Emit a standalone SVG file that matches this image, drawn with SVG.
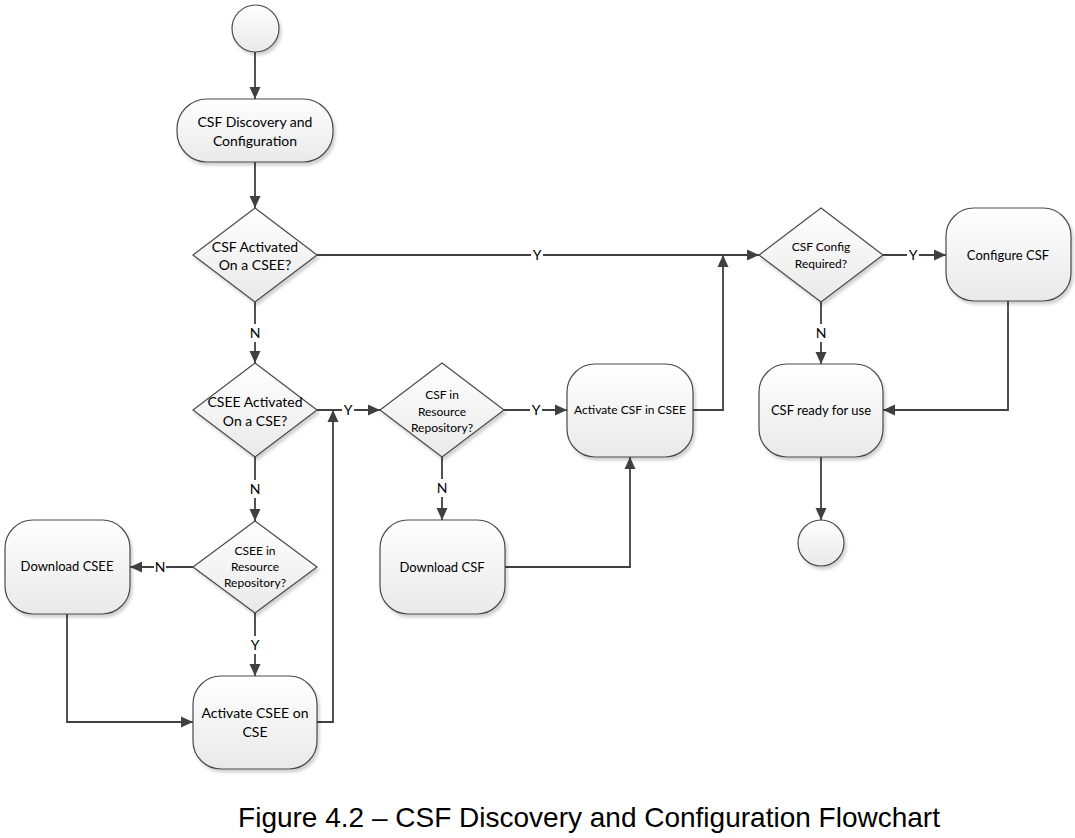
<svg xmlns="http://www.w3.org/2000/svg" width="1075" height="838" viewBox="0 0 1075 838">
<defs>
<linearGradient id="g" x1="0" y1="0" x2="0" y2="1">
<stop offset="0" stop-color="#ffffff"/>
<stop offset="1" stop-color="#e9e9e9"/>
</linearGradient>
<filter id="sh" x="-10%" y="-10%" width="130%" height="130%">
<feDropShadow dx="2" dy="3" stdDeviation="1.8" flood-color="#000" flood-opacity="0.18"/>
</filter>
<marker id="ar" markerUnits="userSpaceOnUse" markerWidth="12" markerHeight="12" viewBox="0 0 12 12" refX="12" refY="6" orient="auto">
<path d="M0,0.5 L12,6 L0,11.5 z" fill="#404040"/>
</marker>
</defs>
<style>
.s{fill:url(#g);stroke:#4a4a4a;stroke-width:1.2;filter:url(#sh)}
.t{font-family:Lato,"Liberation Sans",sans-serif;font-size:13px;fill:#000;text-anchor:middle}
.m{font-size:14px}
.sm{font-size:12px}
.c{fill:none;stroke:#404040;stroke-width:1.8}
.a{marker-end:url(#ar)}
.lb{font-family:Lato,"Liberation Sans",sans-serif;font-size:14px;fill:#000;text-anchor:middle}
.bg{fill:#fff}
.cap{font-family:"Liberation Sans",Arial,sans-serif;font-size:28px;fill:#000;text-anchor:middle}
</style>
<rect width="1075" height="838" fill="#fff"/>

<g id="connectors">
<path class="c a" d="M255,52 V99"/>
<path class="c a" d="M255,162 V208"/>
<path class="c a" d="M317,255 H759"/>
<path class="c a" d="M255,302 V363"/>
<path class="c a" d="M317,410 H380"/>
<path class="c a" d="M255,457 V521"/>
<path class="c a" d="M193,567 H130"/>
<path class="c a" d="M255,613 V676"/>
<path class="c a" d="M67,614 V722 H193"/>
<path class="c a" d="M317,722 H333 V410"/>
<path class="c a" d="M504,410 H567"/>
<path class="c a" d="M442,457 V520"/>
<path class="c a" d="M505,567 H630 V457"/>
<path class="c a" d="M693,410 H723 V255"/>
<path class="c a" d="M883,255 H946"/>
<path class="c a" d="M821,301 V364"/>
<path class="c a" d="M1008,301 V410 H883"/>
<path class="c a" d="M821,457 V520"/>
<g id="labels">
<rect class="bg" x="531" y="246" width="12" height="18"/><text class="lb" x="537" y="260">Y</text>
<rect class="bg" x="249" y="324" width="12" height="18"/><text class="lb" x="255" y="338">N</text>
<rect class="bg" x="342" y="401" width="12" height="18"/><text class="lb" x="348" y="415">Y</text>
<rect class="bg" x="249" y="480" width="12" height="18"/><text class="lb" x="255" y="494">N</text>
<rect class="bg" x="154" y="558" width="12" height="18"/><text class="lb" x="160" y="572">N</text>
<rect class="bg" x="249" y="636" width="12" height="18"/><text class="lb" x="255" y="650">Y</text>
<rect class="bg" x="530" y="401" width="12" height="18"/><text class="lb" x="536" y="415">Y</text>
<rect class="bg" x="436" y="479" width="12" height="18"/><text class="lb" x="442" y="493">N</text>
<rect class="bg" x="907" y="246" width="12" height="18"/><text class="lb" x="913" y="260">Y</text>
<rect class="bg" x="815" y="324" width="12" height="18"/><text class="lb" x="821" y="338">N</text>
</g>
</g>

<g id="start"><circle class="s" cx="255.5" cy="28.5" r="23.5"/></g>
<g id="discovery"><rect class="s" x="177" y="99" width="156" height="63" rx="30"/>
<text class="t m" x="255" y="126.5">CSF Discovery and</text><text class="t m" x="255" y="145.5">Configuration</text></g>
<g id="d-csf-activated"><polygon class="s" points="255,208 317,255 255,302 193,255"/>
<text class="t m" x="255" y="251.5">CSF Activated</text><text class="t m" x="255" y="269.5">On a CSEE?</text></g>
<g id="d-csee-activated"><polygon class="s" points="255,363 317,410 255,457 193,410"/>
<text class="t m" x="255" y="406.5">CSEE Activated</text><text class="t m" x="255" y="425.5">On a CSE?</text></g>
<g id="d-csf-repo"><polygon class="s" points="442,363 504,410 442,457 380,410"/>
<text class="t sm" x="442" y="399">CSF in</text><text class="t sm" x="442" y="415.5">Resource</text><text class="t sm" x="442" y="432">Repository?</text></g>
<g id="activate-csf"><rect class="s" x="567" y="364" width="126" height="93" rx="28"/>
<text class="t sm" x="630" y="414">Activate CSF in CSEE</text></g>
<g id="d-config"><polygon class="s" points="821,208 883,255 821,302 759,255"/>
<text class="t sm" x="821" y="251">CSF Config</text><text class="t sm" x="821" y="268">Required?</text></g>
<g id="configure"><rect class="s" x="946" y="208" width="125" height="93" rx="28"/>
<text class="t" x="1008" y="259.5">Configure CSF</text></g>
<g id="ready"><rect class="s" x="759" y="364" width="124" height="93" rx="28"/>
<text class="t" x="821" y="414.5">CSF ready for use</text></g>
<g id="end"><circle class="s" cx="821" cy="543" r="23"/></g>
<g id="d-csee-repo"><polygon class="s" points="255,521 317,567 255,613 193,567"/>
<text class="t sm" x="255" y="555">CSEE in</text><text class="t sm" x="255" y="571">Resource</text><text class="t sm" x="255" y="587">Repository?</text></g>
<g id="download-csee"><rect class="s" x="5" y="520" width="125" height="94" rx="28"/>
<text class="t" x="67" y="571">Download CSEE</text></g>
<g id="download-csf"><rect class="s" x="380" y="520" width="125" height="94" rx="28"/>
<text class="t" x="442" y="571.5">Download CSF</text></g>
<g id="activate-csee"><rect class="s" x="193" y="676" width="124" height="93" rx="28"/>
<text class="t m" x="255" y="717.5">Activate CSEE on</text><text class="t m" x="255" y="736.5">CSE</text></g>

<text class="cap" x="589" y="827">Figure 4.2 – CSF Discovery and Configuration Flowchart</text>
</svg>
